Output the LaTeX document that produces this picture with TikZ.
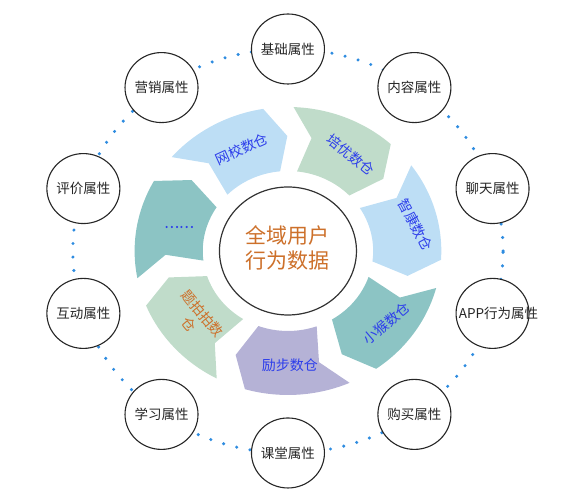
\documentclass[tikz,border=0pt]{standalone}
\usepackage{fontspec}
\setmainfont{Noto Sans CJK SC}
\newfontfamily\heavycjk[FakeBold=1.5]{Noto Sans CJK SC}
\usetikzlibrary{shapes.geometric}

\definecolor{segblue}{RGB}{189,222,245}
\definecolor{seggreen}{RGB}{192,220,202}
\definecolor{segteal}{RGB}{140,196,196}
\definecolor{segpurple}{RGB}{181,178,214}
\definecolor{labelblue}{RGB}{45,62,235}
\definecolor{labelorange}{RGB}{205,112,42}
\definecolor{dotblue}{RGB}{46,140,224}

\begin{document}
\begin{tikzpicture}[x=1.065pt, y=1pt,
    attr/.style={ellipse, draw=black!85, line width=1.1pt, fill=white,
        minimum width=73pt, minimum height=70pt, inner sep=0pt,
        text=black!85, font=\fontsize{13.5}{16}\selectfont},
    hub/.style={ellipse, draw=black!80, line width=1.2pt, fill=white,
        minimum width=137pt, minimum height=128pt, inner sep=0pt},
    hubtext/.style={text=labelorange, align=center, font=\fontsize{21}{25}\selectfont},
    seglabel/.style={text=labelblue, align=center, font=\fontsize{14}{17}\selectfont},
    dotring/.style={draw=dotblue, line width=3.4pt, line cap=round,
        dash pattern=on 0pt off 13.5pt}]
    \useasboundingbox (-270.4, -249) rectangle (259.2, 251);

    % dotted ring behind the attribute circles
    \draw[dotring] (0, 0) circle[radius=202];

    % arrow segments, clockwise
    \foreach \t/\c in {117.3/segblue, 65.9/seggreen, 14.5/segblue, -36.9/segteal,
                       -88.3/segpurple, -139.7/seggreen, 168.9/segteal}
    {\fill[\c] ({\t+22}:144) arc[start angle=\t+22, end angle=\t-18, radius=144]
        -- ({\t-27}:115) -- ({\t-22}:80)
        arc[start angle=\t-22, end angle=\t+18, radius=80]
        -- ({\t+13}:115) -- cycle;}

    \node[seglabel, rotate=24.5] (wangxiao) at (-43.2, 102) {网校数仓};
    \node[seglabel, rotate=-38.5] (peiyou) at (58.9, 96) {培优数仓};
    \node[seglabel, rotate=-62] (zhikang) at (119.9, 26) {智康数仓};
    \node[seglabel, rotate=40.5] (xiaohou) at (92.7, -72.3) {小猴数仓};
    \node[seglabel] (libu) at (1.9, -114) {励步数仓};
    \node[seglabel, text=labelorange, rotate=-50] (tipaipai) at (-86.4, -68) {题拍拍数\\仓};
    \node[seglabel, font=\heavycjk\fontsize{14}{17}\selectfont] (more) at (-102.3, 24) {……};

    % centre
    \node[hub] (hub) at (0, 0) {};
    \node[hubtext] (hubtext) at (0, 3.5) {全域用户\\行为数据};

    % attribute circles
    \foreach \a/\n/\txt/\dx in {90/jichu/基础属性/0, 54/neirong/内容属性/0, 18/liaotian/聊天属性/0,
                            -18/app/APP行为属性/6, -54/goumai/购买属性/0, -90/ketang/课堂属性/0,
                            -126/xuexi/学习属性/0, -162/hudong/互动属性/0, 162/pingjia/评价属性/0,
                            126/yingxiao/营销属性/0}
    {\node[attr] (\n) at (\a:202) {\makebox[0pt]{\hspace{\dx pt}\hspace{\dx pt}\txt}};}
\end{tikzpicture}
\end{document}
